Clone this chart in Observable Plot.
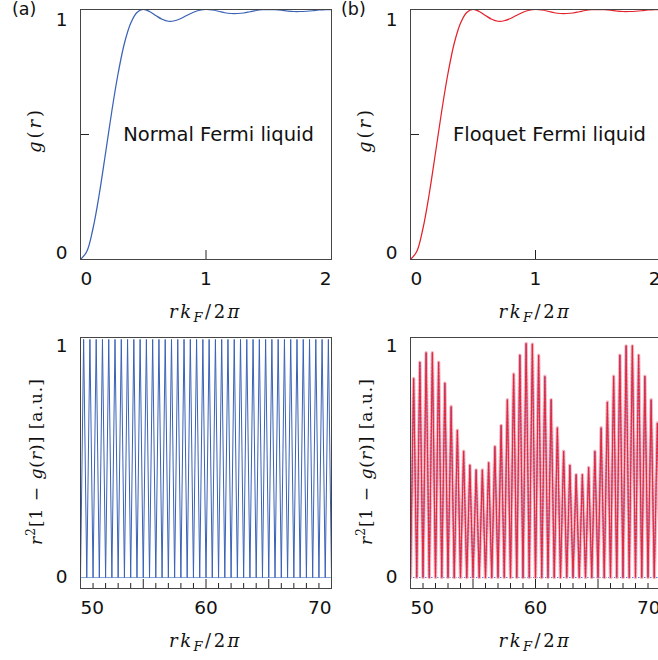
<!DOCTYPE html>
<html><head><meta charset="utf-8">
<script src="https://cdn.jsdelivr.net/npm/d3@7"></script>
<script src="https://cdn.jsdelivr.net/npm/@observablehq/plot@0.6"></script>
<style>
body{margin:0;background:#fff;}
#wrap{position:relative;width:658px;height:660px;overflow:hidden;background:#fff;}
</style></head><body><div id="wrap"></div>
<script>
// ---- data ----
const gX = [0,0.05,0.1,0.15,0.2,0.25,0.3,0.35,0.4,0.45,0.5,0.55,0.6,0.65,0.7,0.75,0.8,0.85,0.9,0.95,1.0,
            1.05,1.1,1.15,1.2,1.25,1.3,1.35,1.4,1.45,1.5,1.55,1.6,1.65,1.7,1.75,1.8,1.85,1.9,1.95,2.0];
const gNormal = [0,0.032,0.125,0.263,0.427,0.595,0.745,0.865,0.945,0.988,1.0,0.992,0.976,0.961,0.953,0.955,0.964,0.977,0.989,0.997,1.0,
                 0.998,0.993,0.987,0.984,0.984,0.986,0.991,0.996,0.999,1.0,0.999,0.997,0.994,0.992,0.992,0.993,0.995,0.998,0.999,1.0];
const gFloquet = [0,0.032,0.125,0.263,0.427,0.595,0.745,0.865,0.945,0.988,1.0,0.992,0.976,0.961,0.953,0.955,0.964,0.977,0.989,0.997,1.0,
                  0.998,0.993,0.987,0.984,0.984,0.986,0.991,0.996,0.999,1.0,0.999,0.997,0.994,0.992,0.992,0.993,0.995,0.998,0.999,1.0];
const zeroX = [50,50.5,51,51.5,52,52.5,53,53.5,54,54.5,55,55.5,56,56.5,57,57.5,58,58.5,59,59.5,60,
               60.5,61,61.5,62,62.5,63,63.5,64,64.5,65,65.5,66,66.5,67,67.5,68,68.5,69,69.5,70];
const peakX = [50.25,50.75,51.25,51.75,52.25,52.75,53.25,53.75,54.25,54.75,55.25,55.75,56.25,56.75,57.25,57.75,58.25,58.75,59.25,59.75,
               60.25,60.75,61.25,61.75,62.25,62.75,63.25,63.75,64.25,64.75,65.25,65.75,66.25,66.75,67.25,67.75,68.25,68.75,69.25,69.75];
const peakNormal = [1,1,1,1,1,1,1,1,1,1,1,1,1,1,1,1,1,1,1,1,1,1,1,1,1,1,1,1,1,1,1,1,1,1,1,1,1,1,1,1];
const peakFloquet = [0.836,0.904,0.944,0.944,0.904,0.816,0.718,0.619,0.531,0.472,0.452,0.452,0.482,0.55,0.639,0.747,0.855,0.934,0.983,0.98,
                     0.934,0.845,0.747,0.629,0.531,0.472,0.432,0.432,0.462,0.531,0.629,0.737,0.845,0.934,0.973,0.973,0.934,0.845,0.747,0.649];
const topXTicks = [0,1,2];
const topXTickLabels = ["0","1","2"];
const topYTicks = [0,0.5,1];
const yTickValues = [0,1];
const yTickLabels = ["0","1"];
const botMajorTicks = [50,55,60,65,70];
const botMinorTicks = [51,52,53,54,56,57,58,59,61,62,63,64,66,67,68,69];
const botXTickValues = [50,60,70];
const botXTickLabels = ["50","60","70"];
const labelNormal = "Normal Fermi liquid";
const labelFloquet = "Floquet Fermi liquid";

// ---- helpers ----
const wrap = document.getElementById("wrap");
const BLUE = "#3a62b6", RED = "#e4222b", INK = "#111", FRAME = "#454545";
const SANS = "DejaVu Sans", SERIF = "DejaVu Serif";

function zigzag(peaks) {
  const rows = [];
  for (let i = 0; i < zeroX.length; i++) {
    rows.push({x: zeroX[i], y: 0});
    if (i < peakX.length) rows.push({x: peakX[i], y: peaks[i]});
  }
  return rows;
}

function xLabelMarks(vals, labels) {
  const anchors = ["start", "middle", "end"];
  return vals.map((v, i) => Plot.text([i], {x: j => vals[j], text: j => labels[j], frameAnchor: "bottom",
    textAnchor: anchors[i], dy: 25, fontSize: 18.5, fontFamily: SANS, fill: INK}));
}
function yLabelMarks(dys) {
  return yTickValues.map((v, i) => Plot.text([i], {y: j => yTickValues[j], text: j => yTickLabels[j], frameAnchor: "left",
    textAnchor: "end", dx: -13, dy: dys[i], fontSize: 18.5, fontFamily: SANS, fill: INK}));
}

function xTitle(sel, cx, baseline) {
  const t = sel.append("text").attr("x", cx).attr("y", baseline).attr("text-anchor", "middle")
    .attr("font-family", SERIF).attr("font-size", 18).attr("fill", INK).attr("letter-spacing", 2.5);
  t.append("tspan").attr("font-style", "italic").text("rk");
  t.append("tspan").attr("font-style", "italic").attr("font-size", 13).attr("dy", 4).text("F");
  t.append("tspan").attr("dy", -4).text("/2");
  t.append("tspan").attr("font-style", "italic").text("π");
}
function yTitleG(sel, bx, cy) {
  const t = sel.append("text").attr("transform", `translate(${bx},${cy}) rotate(-90)`).attr("text-anchor", "middle")
    .attr("font-family", SERIF).attr("font-size", 18).attr("fill", INK).attr("letter-spacing", 3);
  t.append("tspan").attr("font-style", "italic").text("g");
  t.append("tspan").text("(");
  t.append("tspan").attr("font-style", "italic").text("r");
  t.append("tspan").text(")");
}
function yTitleR(sel, bx, cy) {
  const t = sel.append("text").attr("transform", `translate(${bx},${cy}) rotate(-90)`).attr("text-anchor", "middle")
    .attr("font-family", SERIF).attr("font-size", 17).attr("fill", INK).attr("letter-spacing", 1);
  t.append("tspan").attr("font-style", "italic").text("r");
  t.append("tspan").attr("font-size", 12).attr("dy", -7).text("2");
  t.append("tspan").attr("dy", 7).text("[1 − ");
  t.append("tspan").attr("font-style", "italic").text("g");
  t.append("tspan").text("(");
  t.append("tspan").attr("font-style", "italic").text("r");
  t.append("tspan").text(")] [a.u.]");
}
function panelLabel(sel, x, txt) {
  sel.append("text").attr("x", x).attr("y", 15).attr("text-anchor", "start")
    .attr("font-family", SANS).attr("font-size", 17.5).attr("fill", INK).text(txt);
}

function makePanel(o) {
  const iw = o.width - o.mL - o.mR, ih = o.height - o.mT - o.mB;
  const svg = Plot.plot({
    width: o.width, height: o.height,
    marginLeft: o.mL, marginRight: o.mR, marginTop: o.mT, marginBottom: o.mB,
    x: {domain: o.xDomain, axis: null}, y: {domain: o.yDomain, axis: null},
    style: {background: "transparent", overflow: "visible"},
    marks: o.marks(iw, ih)
  });
  svg.style.position = "absolute";
  svg.style.left = o.left + "px";
  svg.style.top = o.top + "px";
  svg.style.maxWidth = "none";
  o.decorate(d3.select(svg), iw, ih);
  wrap.appendChild(svg);
}

function topPanel(left, width, mL, mR, gVals, color, label, tag, labelX, tagX) {
  makePanel({
    left, top: 0, width, height: 330, mL, mR, mT: 9, mB: 71,
    xDomain: [0, 2], yDomain: [0, 1],
    marks: (iw, ih) => [
      Plot.line(gX.map((x, i) => ({x, y: gVals[i]})), {x: "x", y: "y", stroke: color, strokeWidth: 1.25, curve: "catmull-rom", clip: true}),
      Plot.tickX(topXTicks, {x: d => d, insetTop: ih - 9, stroke: "#222"}),
      Plot.tickY(topYTicks, {y: d => d, insetRight: iw - 9, stroke: "#222"}),
      Plot.frame({stroke: FRAME}),
      Plot.text([label], {x: labelX, y: 0.5, text: d => d, fontSize: 19.5, fontFamily: SANS, fill: INK}),
      ...xLabelMarks(topXTicks, topXTickLabels),
      ...yLabelMarks([-6.5, 11])
    ],
    decorate: (sel, iw, ih) => {
      xTitle(sel, mL + iw / 2, 9 + ih + 59);
      yTitleG(sel, mL - 39, 9 + ih / 2 - 4);
      panelLabel(sel, tagX, tag);
    }
  });
}

function bottomPanel(left, width, mL, mR, peaks, floquet) {
  const rows = zigzag(peaks);
  makePanel({
    left, top: 330, width, height: 330, mL, mR, mT: 7, mB: 72,
    xDomain: [50, 70], yDomain: [-0.046, 1.008],
    marks: (iw, ih) => [
      Plot.ruleY([0], {stroke: floquet ? "#5b7fd0" : "#8aa4d8", strokeDasharray: floquet ? "1.5,1.5" : null, strokeWidth: 1}),
      ...(floquet ? [
        Plot.line(rows, {x: "x", y: "y", stroke: "#f6b4be", strokeWidth: 3.4, clip: true}),
        Plot.line(rows, {x: "x", y: "y", stroke: "#6a4fb0", strokeWidth: 0.8, clip: true}),
        Plot.line(rows, {x: "x", y: "y", stroke: "#e8283a", strokeWidth: 1.2, strokeDasharray: "2,1.5", clip: true})
      ] : [
        Plot.line(rows, {x: "x", y: "y", stroke: BLUE, strokeWidth: 1, clip: true})
      ]),
      Plot.tickX(botMinorTicks, {x: d => d, insetTop: ih - 5, stroke: "#222"}),
      Plot.tickX(botMajorTicks, {x: d => d, insetTop: ih - 9, stroke: "#222"}),
      Plot.frame({stroke: FRAME}),
      ...xLabelMarks(botXTickValues, botXTickLabels),
      ...yLabelMarks([0, 6.5])
    ],
    decorate: (sel, iw, ih) => {
      xTitle(sel, mL + iw / 2, 7 + ih + 59);
      yTitleR(sel, mL - 38, 7 + ih / 2 - 1);
    }
  });
}

topPanel(0, 340, 80, 9, gNormal, BLUE, labelNormal, "(a)", 1.1, 12);
topPanel(340, 330, 70, 10, gFloquet, RED, labelFloquet, "(b)", 1.112, 1);
bottomPanel(0, 340, 80, 9, peakNormal, false);
bottomPanel(340, 330, 70, 10, peakFloquet, true);
</script></body></html>
